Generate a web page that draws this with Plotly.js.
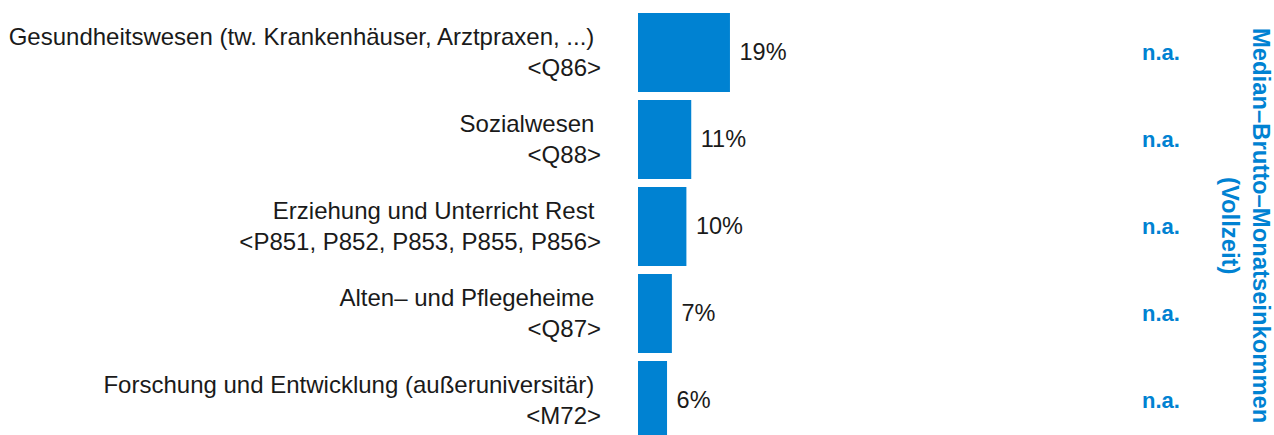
<!DOCTYPE html>
<html>
<head>
<meta charset="utf-8">
<script src="https://cdn.plot.ly/plotly-3.0.1.min.js"></script>
<style>html,body{margin:0;padding:0;background:#fff;}#chart{width:1274px;height:435px;}</style>
</head>
<body>
<div id="chart"></div>
<script>
const categories = [
  "Gesundheitswesen (tw. Krankenhäuser, Arztpraxen, ...) <br><Q86>",
  "Sozialwesen <br><Q88>",
  "Erziehung und Unterricht Rest <br><P851, P852, P853, P855, P856>",
  "Alten– und Pflegeheime <br><Q87>",
  "Forschung und Entwicklung (außeruniversitär) <br><M72>"
];
const shares = [19, 11, 10, 7, 6];
const shareLabels = ["19%", "11%", "10%", "7%", "6%"];
const medianIncome = ["n.a.", "n.a.", "n.a.", "n.a.", "n.a."];
const incomeTitle = "Median–Brutto–Monatseinkommen<br>(Vollzeit)";

const BLUE = "#0082d2";
const FONT = "Liberation Sans, Arial, sans-serif";

const escaped = categories.map(c => c.replace(/<(?!br>)/g, "&lt;").replace(/(?<!<br)>/g, "&gt;"));

const trace = {
  type: "bar",
  orientation: "h",
  x: shares,
  y: escaped,
  text: shareLabels,
  texttemplate: " %{text}",
  textposition: "outside",
  cliponaxis: false,
  textfont: {family: FONT, size: 23.5, color: "#1a1a1a"},
  marker: {color: BLUE},
  hoverinfo: "skip"
};

const annotations = medianIncome.map((v, i) => ({
  xref: "paper", yref: "y", x: 0.822, y: escaped[i],
  text: "<b>" + v + "</b>", showarrow: false,
  font: {family: FONT, size: 22, color: BLUE},
  xanchor: "center", yanchor: "middle"
}));
annotations.push({
  xref: "paper", yref: "paper", x: 0.955, y: 0.492,
  text: "<b>" + incomeTitle + "</b>", showarrow: false, textangle: 90,
  font: {family: FONT, size: 23.8, color: BLUE},
  xanchor: "center", yanchor: "middle"
});

const layout = {
  width: 1274, height: 435,
  margin: {l: 638, r: 0, t: 9, b: 0, pad: 0},
  paper_bgcolor: "#fff", plot_bgcolor: "#fff",
  showlegend: false,
  bargap: 0.092,
  font: {family: FONT, size: 23.5, color: "#1a1a1a"},
  xaxis: {range: [0, 131.4], visible: false, fixedrange: true},
  yaxis: {
    type: "category", range: [4.397, -0.5],
    showgrid: false, zeroline: false, showline: false, ticks: "",
    ticklabelstandoff: 36,
    tickfont: {family: FONT, size: 24, color: "#1a1a1a"}
  },
  annotations: annotations
};

Plotly.newPlot("chart", [trace], layout, {displayModeBar: false, staticPlot: true});
</script>
</body>
</html>
